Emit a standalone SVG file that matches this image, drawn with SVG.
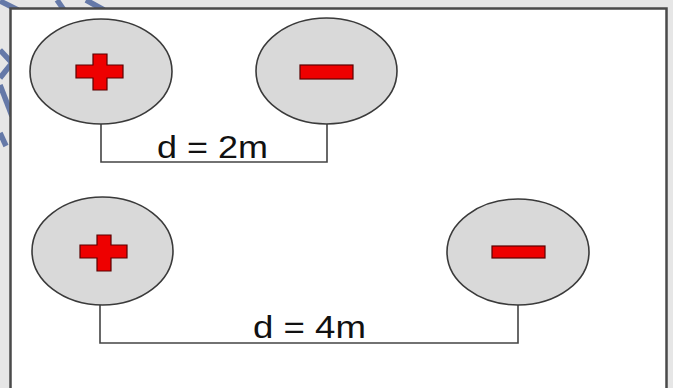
<svg xmlns="http://www.w3.org/2000/svg" width="673" height="388" viewBox="0 0 673 388">
  <style>
    .charge { fill: #d9d9d9; stroke: #3a3a3a; stroke-width: 1.6; }
    .sign { fill: #ee0000; stroke: #5a0000; stroke-width: 1.2; }
    .wire { fill: none; stroke: #444; stroke-width: 1.6; }
    .wm { fill: none; stroke: #6579a8; stroke-width: 5.5; stroke-linecap: butt; }
    .lbl { font-family: "Liberation Sans", Arial, sans-serif; font-size: 31px; fill: #111; }
  </style>
  <rect x="0" y="0" width="673" height="388" fill="#e6e6e6"/>
  <g id="watermark">
    <path class="wm" d="M0,1 L18,10"/>
    <path class="wm" d="M57,0 L64,10"/>
    <path class="wm" d="M86,0 L104,10"/>
    <path class="wm" d="M0,50 L12,63 L0,78"/>
    <path class="wm" d="M0,85 L12,116"/>
    <path class="wm" d="M0,133 L6,146"/>
  </g>
  <rect id="panel" x="10.5" y="8.5" width="656" height="385" fill="#ffffff" stroke="#4a4a4a" stroke-width="2.5"/>
  <g id="connectors">
    <path class="wire" d="M101,124 V162 H327 V124"/>
    <path class="wire" d="M100,305 V343 H518 V305"/>
  </g>
  <g id="pos1">
    <ellipse class="charge" cx="101" cy="71.5" rx="71" ry="52.5"/>
    <path class="sign" d="M93,54 H107 V65 H123 V78 H107 V90 H93 V78 H76 V65 H93 Z"/>
  </g>
  <g id="neg1">
    <ellipse class="charge" cx="326.5" cy="71" rx="70.5" ry="53"/>
    <rect class="sign" x="300" y="65" width="53" height="14"/>
  </g>
  <g id="pos2">
    <ellipse class="charge" cx="102.5" cy="251" rx="70.5" ry="54"/>
    <path class="sign" d="M97,235 H111 V245 H127 V258 H111 V271 H97 V258 H80 V245 H97 Z"/>
  </g>
  <g id="neg2">
    <ellipse class="charge" cx="518" cy="252" rx="71" ry="53"/>
    <rect class="sign" x="492" y="246" width="53" height="12"/>
  </g>
  <g id="label1">
    <text class="lbl" x="157" y="158" textLength="111" lengthAdjust="spacingAndGlyphs">d = 2m</text>
  </g>
  <g id="label2">
    <text class="lbl" x="253" y="338" textLength="113" lengthAdjust="spacingAndGlyphs">d = 4m</text>
  </g>
</svg>
